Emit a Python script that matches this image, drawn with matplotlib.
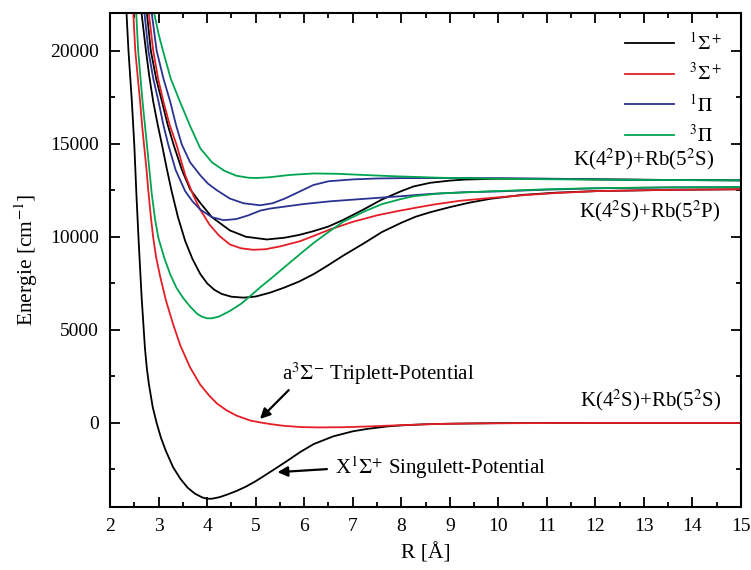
import matplotlib
matplotlib.use("Agg")
import matplotlib.pyplot as plt
from matplotlib.ticker import MultipleLocator

plt.rcParams["font.family"] = ["Liberation Serif", "DejaVu Serif"]
plt.rcParams["mathtext.fontset"] = "stix"

# ground states: X1Sigma+ (black) and a3Sigma+ (red)
x1s_R = [2.34, 2.38, 2.45, 2.50, 2.545, 2.59, 2.65, 2.72, 2.76, 2.8, 2.88, 2.96, 3.05, 3.15, 3.3,
         3.45, 3.6, 3.75, 3.9, 4.0, 4.1, 4.25, 4.4, 4.6, 4.8, 5.0, 5.2, 5.45, 5.7, 5.92,
         6.2, 6.6, 7.0, 7.3, 7.7, 8.0, 8.5, 9.0, 10, 12, 15]
x1s_E = [22000, 20000, 17260, 14945, 12200, 9765, 6800, 4000, 2900, 2100, 850, 0, -800, -1500, -2380,
         -3000, -3480, -3800, -4000, -4070, -4070, -3990, -3860, -3660, -3420, -3130, -2800, -2380, -1950, -1560,
         -1130, -720, -450, -320, -190, -130, -70, -40, -10, 0, 0]

a3s_R = [2.48, 2.52, 2.57, 2.62, 2.66, 2.70, 2.75, 2.79, 2.84, 2.89, 2.95, 3.03, 3.15, 3.3, 3.45,
         3.65, 3.86, 4.05, 4.2, 4.4, 4.6, 4.89, 5.09, 5.3, 5.57, 5.92, 6.3, 6.8, 7.29, 8.0,
         8.67, 9.5, 10.5, 12, 15]
a3s_E = [22000, 20000, 18600, 17260, 16000, 14945, 13650, 12440, 11100, 9950, 8900, 7900, 6600, 5300, 4150,
         2980, 2050, 1450, 1050, 680, 400, 130, 30, -60, -150, -220, -240, -230, -190, -120,
         -60, -25, -10, 0, 0]

# excited states, 1Sigma+ (two black curves)
s1a_R = [2.65, 2.74, 2.81, 2.89, 2.98, 3.07, 3.17, 3.27, 3.4, 3.55, 3.7, 3.86, 4.0, 4.15, 4.3,
         4.5, 4.75, 5.0, 5.3, 5.6, 5.9, 6.2, 6.5, 6.8, 7.25, 7.6, 8.0, 8.3, 8.6, 9.0,
         9.4, 9.84, 10.5, 11.2, 12, 13.5, 15]
s1a_E = [22000, 20000, 18600, 17260, 16050, 14945, 13650, 12440, 11050, 9765, 8800, 8000, 7500, 7150, 6930,
         6780, 6730, 6790, 7000, 7280, 7600, 8000, 8480, 8980, 9680, 10250, 10750, 11080, 11320, 11590,
         11830, 12040, 12250, 12370, 12450, 12520, 12550]

s1b_R = [2.76, 2.84, 2.95, 3.07, 3.19, 3.31, 3.48, 3.65, 3.86, 4.1, 4.47, 4.8, 5.23, 5.6, 5.9,
         6.19, 6.5, 6.8, 7.22, 7.6, 8.0, 8.25, 8.6, 9.0, 9.29, 10, 11, 12, 13.5, 15]
s1b_E = [22000, 20000, 18500, 17260, 16000, 14945, 13600, 12550, 11815, 11050, 10340, 10000, 9855, 9950, 10100,
         10300, 10550, 10900, 11460, 12000, 12450, 12700, 12900, 13015, 13070, 13120, 13110, 13080, 13050, 13030]

# 3Sigma+ (red)
t3s_R = [2.80, 2.89, 2.99, 3.10, 3.23, 3.37, 3.55, 3.72, 3.86, 4.05, 4.25, 4.47, 4.7, 4.95, 5.2,
         5.5, 5.92, 6.2, 6.54, 7.0, 7.5, 7.91, 8.3, 8.67, 9.2, 9.84, 10.5, 11.2, 12, 13.5, 15]
t3s_E = [22000, 20000, 18500, 17260, 16000, 14945, 13300, 12200, 11450, 10650, 10050, 9585, 9380, 9300, 9330,
         9480, 9765, 10050, 10400, 10800, 11150, 11370, 11560, 11730, 11930, 12085, 12230, 12350, 12450, 12520, 12550]

# 1Pi (two blue curves)
p1a_R = [2.71, 2.79, 2.89, 3.0, 3.1, 3.20, 3.35, 3.55, 3.7, 3.86, 4.1, 4.34, 4.6, 4.85, 5.09,
         5.3, 5.6, 6.0, 6.54, 7.2, 7.98, 8.6, 9.3, 10.04, 11, 12, 13.5, 15]
p1a_E = [22000, 20000, 18500, 17260, 16000, 14945, 13600, 12440, 11900, 11460, 11050, 10890, 10950, 11150, 11400,
         11515, 11620, 11760, 11905, 12030, 12175, 12300, 12390, 12440, 12530, 12600, 12650, 12670]

p1b_R = [2.86, 2.96, 3.1, 3.24, 3.36, 3.48, 3.65, 3.86, 4.02, 4.2, 4.47, 4.75, 5.09, 5.35, 5.6,
         5.9, 6.19, 6.5, 7.0, 7.5, 8.0, 9.0, 9.84, 11, 12, 13.5, 15]
p1b_E = [22000, 20000, 18500, 17260, 16000, 14945, 14000, 13300, 12850, 12500, 12050, 11800, 11690, 11800, 12050,
         12420, 12780, 12980, 13080, 13130, 13150, 13155, 13150, 13120, 13090, 13050, 13030]

# 3Pi (two green curves)
t1a_R = [2.54, 2.58, 2.67, 2.76, 2.86, 2.93, 3.0, 3.12, 3.24, 3.37, 3.51, 3.65, 3.8, 3.9, 4.0,
         4.1, 4.25, 4.47, 4.7, 4.89, 5.1, 5.3, 5.5, 5.7, 5.92, 6.2, 6.5, 6.8, 7.25, 7.6,
         8.0, 8.25, 8.8, 9.84, 11, 12, 13.5, 15]
t1a_E = [22000, 20000, 17260, 14945, 12300, 10900, 9900, 8850, 7980, 7250, 6700, 6250, 5850, 5700, 5620,
         5620, 5720, 6015, 6400, 6820, 7300, 7720, 8160, 8600, 9080, 9680, 10250, 10800, 11370, 11750,
         12030, 12175, 12330, 12440, 12550, 12610, 12650, 12670]

t1b_R = [2.91, 3.0, 3.09, 3.25, 3.44, 3.65, 3.86, 4.1, 4.35, 4.6, 4.85, 5.02, 5.3, 5.7, 6.19,
         6.7, 7.3, 7.91, 8.8, 9.84, 11, 12, 13.5, 15]
t1b_E = [22000, 20900, 20000, 18500, 17260, 15950, 14750, 14000, 13550, 13280, 13170, 13155, 13200, 13320, 13400,
         13380, 13310, 13245, 13170, 13120, 13090, 13070, 13045, 13030]

legend_labels = [r"$^1\Sigma^+$", r"$^3\Sigma^+$", r"$^1\Pi$", r"$^3\Pi$"]

black = "black"
red = "#e41e25"
blue = "#2b3290"
green = "#00a550"

fig = plt.figure(figsize=(7.51, 5.70), dpi=100)
ax = fig.add_axes([0.1465, 0.111, 0.8402, 0.8656])

lw = 1.3
h1, = ax.plot(s1a_R, s1a_E, color=black, lw=lw)
ax.plot(s1b_R, s1b_E, color=black, lw=lw)
h2, = ax.plot(t3s_R, t3s_E, color=red, lw=lw)
h3, = ax.plot(p1a_R, p1a_E, color=blue, lw=lw)
ax.plot(p1b_R, p1b_E, color=blue, lw=lw)
h4, = ax.plot(t1a_R, t1a_E, color=green, lw=lw)
ax.plot(t1b_R, t1b_E, color=green, lw=lw)
ax.plot(x1s_R, x1s_E, color=black, lw=lw)
ax.plot(a3s_R, a3s_E, color=red, lw=lw)

ax.set_xlim(2, 15)
ax.set_ylim(-4500, 22000)
ax.xaxis.set_major_locator(MultipleLocator(1))
ax.xaxis.set_minor_locator(MultipleLocator(0.5))
ax.yaxis.set_major_locator(MultipleLocator(5000))
ax.yaxis.set_minor_locator(MultipleLocator(2500))
ax.tick_params(which="both", direction="in", top=True, right=True, width=1.3,
               labelsize=14, pad=8)
ax.tick_params(which="major", length=7)
ax.tick_params(which="minor", length=3.5)
for s in ax.spines.values():
    s.set_linewidth(1.5)

ax.set_xlabel("R [Å]", fontsize=15.5, labelpad=6)
ax.set_ylabel(r"Energie [cm$^{-1}$]", fontsize=15.5, labelpad=7)

ax.legend([h1, h2, h3, h4], legend_labels,
          loc="upper right", frameon=False, fontsize=14,
          handlelength=2.5, labelspacing=0.45, borderaxespad=0.55)

ax.text(14.44, 14140, r"K(4$^2$P)+Rb(5$^2$S)", fontsize=15, ha="right", va="center")
ax.text(14.58, 11370, r"K(4$^2$S)+Rb(5$^2$P)", fontsize=15, ha="right", va="center")
ax.text(14.6, 1200, r"K(4$^2$S)+Rb(5$^2$S)", fontsize=15, ha="right", va="center")

ax.annotate(r"a$^3\Sigma^{-}$ Triplett-Potential", xy=(5.09, 215), xytext=(5.54, 2620),
            fontsize=15, va="center", ha="left",
            arrowprops=dict(arrowstyle="-|>", color="black", lw=1.6,
                            shrinkA=0, shrinkB=0, relpos=(0.05, 0.0)))
ax.annotate(r"X$^1\Sigma^{+}$ Singulett-Potential", xy=(5.45, -2645), xytext=(6.64, -2380),
            fontsize=15, va="center", ha="left",
            arrowprops=dict(arrowstyle="-|>", color="black", lw=1.6,
                            shrinkA=4, shrinkB=0, relpos=(0.0, 0.45)))

plt.savefig("out.png", dpi=100)
